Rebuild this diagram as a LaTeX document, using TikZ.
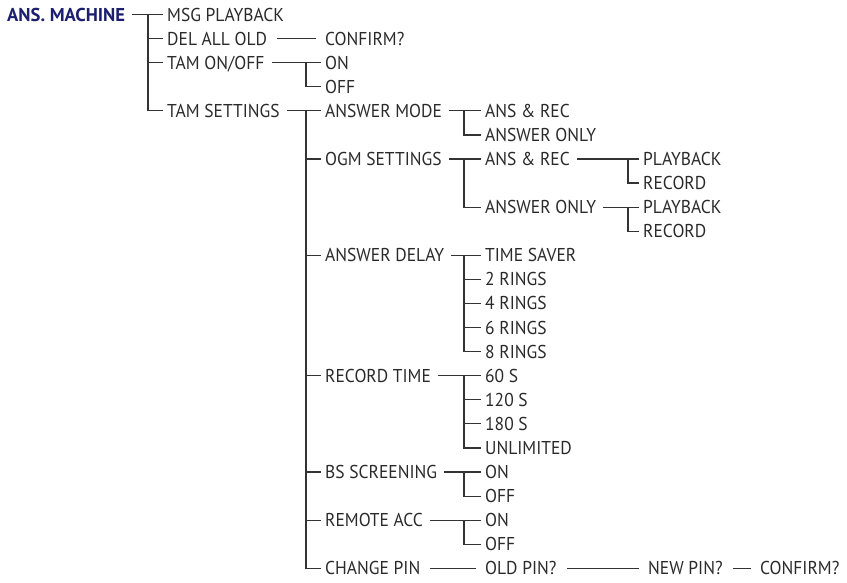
\documentclass[tikz,border=0pt]{standalone}
\usepackage{fontspec}
\setmainfont{PT Sans}[FakeStretch=0.94]
\newfontfamily\ttlfont{PT Sans Bold}
\definecolor{txtc}{HTML}{2A2A2A}
\definecolor{navy}{HTML}{1B1F6E}
\definecolor{linec}{HTML}{333333}
\newcommand\mybranch[4]{%
  \draw[ln] ([xshift=7pt]#1.east) -- ([xshift=-4pt]#2.west);
  \draw[ln] ([xshift=-#4]#2.west) |- ([xshift=-4pt]#3.west);}
\newcommand\mytick[2]{\draw[ln] ([xshift=-#2]#1.west) -- ([xshift=-4pt]#1.west);}
\newcommand\mychain[2]{\draw[ln] ([xshift=10pt]#1.east) -- ([xshift=-9pt]#2.west);}
\begin{document}
\begin{tikzpicture}[x=1pt,y=-1pt,
  t/.style={anchor=west,inner sep=0pt,text height=13pt,text depth=0pt,text=txtc,font=\fontsize{18.6}{20}\selectfont},
  ttl/.style={t,text=navy,font=\fontsize{18.6}{20}\ttlfont},
  ln/.style={draw=linec,line width=1.2pt}]
\useasboundingbox (0,0) rectangle (847,582);
\def\r#1{\fpeval{14.5+#1*24.08}}
% level 0/1
\node[ttl] (root) at (7,\r{0}) {ANS. MACHINE};
\node[t] (msg) at (167,\r{0}) {MSG PLAYBACK};
\node[t] (del) at (167,\r{1}) {DEL ALL OLD};
\node[t] (delc) at (325,\r{1}) {CONFIRM?};
\node[t] (tam) at (167,\r{2}) {TAM ON/OFF};
\node[t] (tamon) at (325,\r{2}) {ON};
\node[t] (tamoff) at (325,\r{3}) {OFF};
\node[t] (set) at (167,\r{4}) {TAM SETTINGS};
% TAM settings children
\node[t] (am) at (325,\r{4}) {ANSWER MODE};
\node[t] (amar) at (485,\r{4}) {ANS \& REC};
\node[t] (amao) at (485,\r{5}) {ANSWER ONLY};
\node[t] (ogm) at (325,\r{6}) {OGM SETTINGS};
\node[t] (ogar) at (485,\r{6}) {ANS \& REC};
\node[t] (ogarp) at (643,\r{6}) {PLAYBACK};
\node[t] (ogarr) at (643,\r{7}) {RECORD};
\node[t] (ogao) at (485,\r{8}) {ANSWER ONLY};
\node[t] (ogaop) at (643,\r{8}) {PLAYBACK};
\node[t] (ogaor) at (643,\r{9}) {RECORD};
\node[t] (ad) at (325,\r{10}) {ANSWER DELAY};
\node[t] (ad1) at (485,\r{10}) {TIME SAVER};
\node[t] (ad2) at (485,\r{11}) {2 RINGS};
\node[t] (ad3) at (485,\r{12}) {4 RINGS};
\node[t] (ad4) at (485,\r{13}) {6 RINGS};
\node[t] (ad5) at (485,\r{14}) {8 RINGS};
\node[t] (rt) at (325,\r{15}) {RECORD TIME};
\node[t] (rt1) at (485,\r{15}) {60 S};
\node[t] (rt2) at (485,\r{16}) {120 S};
\node[t] (rt3) at (485,\r{17}) {180 S};
\node[t] (rt4) at (485,\r{18}) {UNLIMITED};
\node[t] (bs) at (325,\r{19}) {BS SCREENING};
\node[t] (bson) at (485,\r{19}) {ON};
\node[t] (bsoff) at (485,\r{20}) {OFF};
\node[t] (ra) at (325,\r{21}) {REMOTE ACC};
\node[t] (raon) at (485,\r{21}) {ON};
\node[t] (raoff) at (485,\r{22}) {OFF};
\node[t] (cp) at (325,\r{23}) {CHANGE PIN};
\node[t] (old) at (485,\r{23}) {OLD PIN?};
\node[t] (new) at (648,\r{23}) {NEW PIN?};
\node[t] (conf) at (760,\r{23}) {CONFIRM?};
% connectors
\mybranch{root}{msg}{set}{19pt}
\mytick{del}{19pt}\mytick{tam}{19pt}
\mychain{del}{delc}
\mybranch{tam}{tamon}{tamoff}{19pt}
\mybranch{set}{am}{cp}{19pt}
\mytick{ogm}{19pt}\mytick{ad}{19pt}\mytick{rt}{19pt}\mytick{bs}{19pt}\mytick{ra}{19pt}
\mybranch{am}{amar}{amao}{21pt}
\mybranch{ogm}{ogar}{ogao}{21pt}
\mybranch{ogar}{ogarp}{ogarr}{15pt}
\mybranch{ogao}{ogaop}{ogaor}{15pt}
\mybranch{ad}{ad1}{ad5}{21pt}
\mytick{ad2}{21pt}\mytick{ad3}{21pt}\mytick{ad4}{21pt}
\mybranch{rt}{rt1}{rt4}{21pt}
\mytick{rt2}{21pt}\mytick{rt3}{21pt}
\mybranch{bs}{bson}{bsoff}{21pt}
\mybranch{ra}{raon}{raoff}{21pt}
\mychain{cp}{old}
\mychain{old}{new}
\mychain{new}{conf}
\end{tikzpicture}
\end{document}
